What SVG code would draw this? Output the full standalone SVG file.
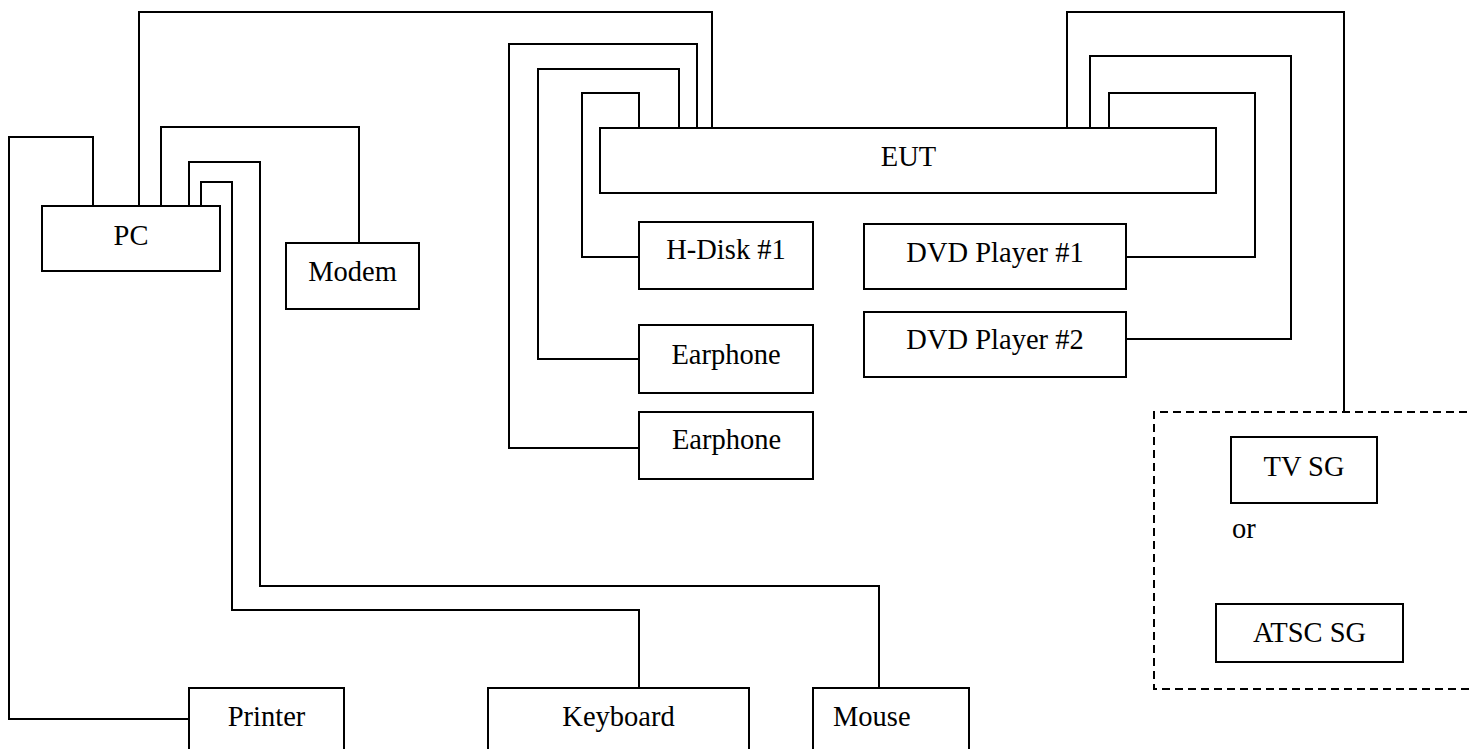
<svg xmlns="http://www.w3.org/2000/svg" width="1472" height="749" viewBox="0 0 1472 749">
<style>
.box{fill:#fff;stroke:#000;stroke-width:2}
.w{fill:none;stroke:#000;stroke-width:2;stroke-linejoin:miter}
.dash{fill:none;stroke:#000;stroke-width:2;stroke-dasharray:8,5}
text{font-family:"Liberation Serif","Times New Roman",serif;font-size:28.5px;fill:#000}
.c{text-anchor:middle}
</style>
<rect width="1472" height="749" fill="#fff"/>
<g id="connectors">
<path class="w" d="M93,206 V137 H9 V719 H189"/>
<path class="w" d="M139,206 V12 H712 V128"/>
<path class="w" d="M161,206 V127 H359 V243"/>
<path class="w" d="M189,206 V162 H260 V586 H879 V688"/>
<path class="w" d="M201,206 V182 H232 V610 H639 V688"/>
<path class="w" d="M697,128 V44 H509 V448 H639"/>
<path class="w" d="M679,128 V69 H538 V359 H639"/>
<path class="w" d="M639,128 V93 H582 V257 H639"/>
<path class="w" d="M1067,128 V12 H1344 V412"/>
<path class="w" d="M1090,128 V56 H1291 V339 H1126"/>
<path class="w" d="M1109,128 V93 H1255 V257 H1126"/>
</g>
<g id="sg-group">
<path class="dash" d="M1480,412 H1154 V689 H1480"/>
</g>
<g id="pc"><rect class="box" x="42" y="206" width="178" height="65"/><text class="c" x="131" y="245">PC</text></g>
<g id="modem"><rect class="box" x="286" y="243" width="133" height="66"/><text class="c" x="352.5" y="281">Modem</text></g>
<g id="eut"><rect class="box" x="600" y="128" width="616" height="65"/><text class="c" x="908.5" y="166">EUT</text></g>
<g id="hdisk"><rect class="box" x="639" y="222" width="174" height="67"/><text class="c" x="726" y="259">H-Disk #1</text></g>
<g id="earphone1"><rect class="box" x="639" y="325" width="174" height="68"/><text class="c" x="726" y="364">Earphone</text></g>
<g id="earphone2"><rect class="box" x="639" y="412" width="174" height="67"/><text class="c" x="726.5" y="449">Earphone</text></g>
<g id="dvd1"><rect class="box" x="864" y="224" width="262" height="65"/><text class="c" x="995" y="262">DVD Player #1</text></g>
<g id="dvd2"><rect class="box" x="864" y="312" width="262" height="65"/><text class="c" x="995" y="349">DVD Player #2</text></g>
<g id="tvsg"><rect class="box" x="1231" y="437" width="146" height="66"/><text class="c" x="1304" y="476">TV SG</text></g>
<text x="1232" y="538">or</text>
<g id="atscsg"><rect class="box" x="1216" y="604" width="187" height="58"/><text class="c" x="1309.5" y="642">ATSC SG</text></g>
<g id="printer"><rect class="box" x="189" y="688" width="155" height="80"/><text class="c" x="266.5" y="726">Printer</text></g>
<g id="keyboard"><rect class="box" x="488" y="688" width="261" height="80"/><text class="c" x="618.5" y="726">Keyboard</text></g>
<g id="mouse"><rect class="box" x="813" y="688" width="156" height="80"/><text x="833" y="726">Mouse</text></g>
</svg>
